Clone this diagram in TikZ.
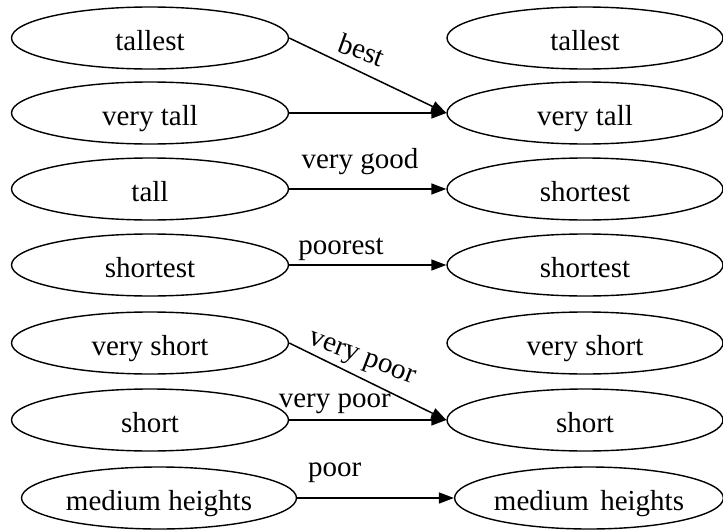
\documentclass[tikz,border=0pt]{standalone}
\usepackage{fontspec}
\setmainfont{Liberation Serif}
\usetikzlibrary{shapes.geometric,arrows.meta}

\tikzset{
  term/.style={ellipse, draw, line width=1.4pt, minimum width=277pt,
    minimum height=62pt, inner sep=0pt, text height=24pt, text depth=0pt,
    font=\fontsize{29}{34}\selectfont},
  link/.style={line width=1.5pt, -{Triangle[length=15pt,width=11pt]}},
  lab/.style={font=\fontsize{29}{34}\selectfont, anchor=base, inner sep=0pt}
}

\begin{document}
\begin{tikzpicture}[x=1pt, y=-1pt]
\useasboundingbox (0,0) rectangle (723,530);

% source terms
\node[term] (l1) at (150,38)  {tallest};
\node[term] (l2) at (150,113) {very tall};
\node[term] (l3) at (150,189) {tall};
\node[term] (l4) at (150,265) {shortest};
\node[term] (l5) at (150,343) {very short};
\node[term] (l6) at (150,420) {short};
\node[term, minimum width=275pt] (l7) at (159,498) {medium heights};

% target terms
\node[term, minimum width=276pt] (r1) at (585,38)  {tallest};
\node[term, minimum width=276pt] (r2) at (585,113) {very tall};
\node[term, minimum width=276pt] (r3) at (585,189) {shortest};
\node[term, minimum width=276pt] (r4) at (585,265) {shortest};
\node[term, minimum width=276pt] (r5) at (585,343) {very short};
\node[term, minimum width=276pt] (r6) at (585,420) {short};
\node[term, minimum width=268pt] (r7) at (589,498) {medium\ \kern4pt heights};

% mappings
\draw[link] (l1.east) -- node[lab, pos=0.44, yshift=12pt, rotate=-20] {best} (r2.west);
\draw[link] (l2.east) -- (r2.west);
\draw[link] (l3.east) -- node[lab, pos=0.45, yshift=21pt] {very good} (r3.west);
\draw[link] (l4.east) -- node[lab, pos=0.33, yshift=11pt] {poorest} (r4.west);
\draw[link] (l5.east) -- node[lab, pos=0.45, yshift=14pt, rotate=-21] {very poor} (r6.west);
\draw[link] (l6.east) -- node[lab, pos=0.29, yshift=13pt] {very poor} (r6.west);
\draw[link] (l7.east) -- node[lab, pos=0.24, yshift=22pt] {poor} (r7.west);
\end{tikzpicture}
\end{document}
